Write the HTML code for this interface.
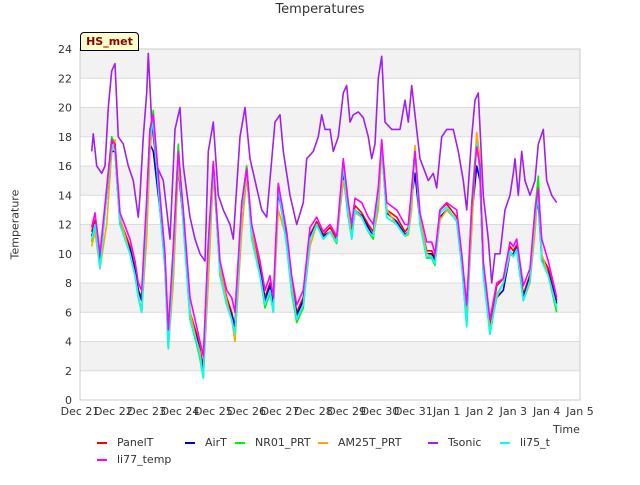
<!DOCTYPE html>
<html><head><meta charset="utf-8"><style>
body{margin:0;background:#fff;font-family:"Liberation Sans","DejaVu Sans",sans-serif}
svg text{font-family:"DejaVu Sans","Liberation Sans",sans-serif}
</style></head><body>
<svg id="chart" width="640" height="480" xmlns="http://www.w3.org/2000/svg"></svg>
<script>
const xTickLabels=["Dec 21","Dec 22","Dec 23","Dec 24","Dec 25","Dec 26","Dec 27","Dec 28","Dec 29","Dec 30","Dec 31","Jan 1","Jan 2","Jan 3","Jan 4","Jan 5"];
const yTicks=[0,2,4,6,8,10,12,14,16,18,20,22,24];
const times=[0.35,0.45,0.6,0.8,0.95,1.05,1.2,1.5,1.65,1.75,1.85,2.0,2.1,2.2,2.4,2.55,2.65,2.8,2.95,3.1,3.3,3.5,3.6,3.7,3.85,4.0,4.2,4.4,4.55,4.65,4.85,5.0,5.15,5.4,5.55,5.7,5.8,5.95,6.2,6.35,6.5,6.7,6.9,7.1,7.3,7.5,7.7,7.9,8.05,8.15,8.25,8.45,8.65,8.8,8.95,9.05,9.2,9.5,9.75,9.85,9.95,10.05,10.2,10.4,10.55,10.65,10.8,11.0,11.3,11.45,11.6,11.75,11.9,12.0,12.1,12.3,12.5,12.7,12.9,13.0,13.1,13.3,13.5,13.65,13.75,13.85,14.05,14.3];
const li75=[11,12,9,14,17.5,17,12,10,8.5,7,6,13,18,19,13,9,3.5,9.5,17,12,5.5,4,3,1.5,10,16,8.5,6.5,5.5,4.5,13,15.8,11,8.5,6.5,7.5,6,14.5,10.5,7.5,5.5,6.5,11,12,11,11.5,10.8,16,12.5,11,13,12.5,11.5,11.2,14,17.5,12.5,12,11.2,11.5,14,17,12,9.8,9.8,9.3,12.8,13.2,12.2,9.3,5,13,17.5,15.5,8.5,4.5,7.2,8,10.2,9.8,10.3,6.8,8.2,12.5,14,9.5,8.5,6.3];
const panelT=[11.5,12.3,9.5,14.2,17.8,17.2,12.3,10.5,9,7.5,7,13.5,18.5,19.3,13.5,9.5,4,10,17.2,12.5,6,4.5,3.5,2.2,10.5,16.2,9,7,6,5,13.3,16,11.5,9,7,8,6.5,14.7,11,8,6,7,11.3,12.2,11.3,11.8,11,16.3,13,11.5,13.3,12.8,12,11.5,14.2,17.6,13,12.5,11.5,11.8,14.2,17.2,12.3,10.2,10.2,9.7,13,13.4,12.5,9.7,5.5,13.3,17.8,15.8,9,5,7.8,8.3,10.5,10.2,10.6,7.2,8.6,12.8,14.3,9.8,9,6.8];
const airT=[11.2,12,9.3,14,17,17,12,10.3,8.8,7.5,6.8,13,17.5,17,13,9.3,3.8,9.5,16,12.2,5.8,4.2,3.3,2,10,15.8,8.8,6.8,5.8,5,13,15.6,11.2,8.8,6.8,7.8,6.3,14.3,10.8,7.8,5.8,6.8,11.2,12,11.2,11.5,10.8,15.5,12.5,11.2,13,12.6,11.8,11.2,13.8,17.2,12.8,12.2,11.3,11.5,13.8,15.5,12.2,10,10,9.5,12.5,13,12.3,9.5,5.2,12.5,16,15,8.8,4.8,7,7.5,10,10,10.4,7,8.4,12.5,13.5,9.7,8.7,6.6];
const nr01=[10.8,11.8,9,14.5,18,17.5,12,10,8.5,7,6,13.5,18.5,19.8,13,9,3.5,10,17.5,12,5.5,3.8,2.8,1.5,10.5,16.2,8.5,6.5,5.5,4.5,13.2,16,11,8.5,6.3,7.3,6,14.8,10.5,7.3,5.3,6.3,11,12,11,11.5,10.7,16.3,12.5,11,13,12.5,11.5,11,14,17.5,12.5,12,11.2,11.3,14.5,17.2,12,9.7,9.7,9.2,12.8,13.2,12.2,9.2,5,13.5,18,15.5,8.5,4.5,7.2,8,10.2,9.8,10.3,6.8,8.2,13,15.3,9.5,8.5,6];
const am25t=[10.5,11.5,9,12,17,17.8,12.5,10,8.5,7.2,6,11,17,19.5,14,9.5,3.5,8,16,13,6,4,3.3,1.5,8,15.5,9,6.8,5.5,4,11.5,15.3,11.5,8.5,6.5,7.5,6,13,11,7.8,5.5,6.5,10.5,12,11,11.5,10.8,15,13,11.2,12.8,12.5,11.5,11.2,13,17,13,12,11.2,11.3,13,17.4,12.5,10,9.8,9.3,12.3,13,12.3,9.5,5.5,11.5,18.3,16.5,9,4.8,7,8,10,9.8,10.2,6.8,8,11.5,14.5,10,8.5,6.3];
const li77=[11.8,12.8,10,14.5,17.8,17.5,12.8,11,9.5,8,7.5,13.8,18.5,19.5,14,10,4.8,10.5,17,13,7,5,4,3,10.8,16.3,9.5,7.5,7,6,13.5,15.8,12,9.5,7.5,8.5,7,14.8,11.5,8.5,6.5,7.5,11.8,12.5,11.5,12,11.2,16.5,13.5,12,13.8,13.5,12.5,12,14.5,17.8,13.5,13,12,12,14.5,17,12.8,10.8,10.8,10,13,13.5,13,10,6.5,13.2,17.3,16,9.5,5.5,8,8.3,10.8,10.5,11,7.8,9,13,14.5,11,9.5,7];
const tsT=[0.35,0.4,0.5,0.65,0.75,0.85,0.95,1.05,1.15,1.3,1.45,1.6,1.75,1.8,1.9,2.0,2.05,2.15,2.3,2.5,2.6,2.7,2.85,3.0,3.1,3.3,3.45,3.6,3.75,3.85,4.0,4.15,4.3,4.5,4.6,4.8,4.95,5.1,5.3,5.45,5.6,5.85,6.0,6.1,6.3,6.5,6.7,6.8,7.0,7.15,7.25,7.35,7.5,7.6,7.75,7.9,8.0,8.1,8.2,8.35,8.5,8.65,8.75,8.85,8.95,9.05,9.15,9.35,9.6,9.75,9.85,9.95,10.05,10.2,10.45,10.6,10.7,10.85,11.0,11.2,11.35,11.5,11.6,11.75,11.85,11.95,12.1,12.25,12.35,12.45,12.6,12.75,12.9,13.0,13.05,13.15,13.25,13.35,13.5,13.65,13.75,13.9,14.0,14.15,14.3];
const tsonic=[17,18.2,16,15.5,16,20,22.5,23,18,17.5,16,15,12.5,14,18,21,23.7,19,16,15,13,11,18.5,20,16,12.5,11,10,9.5,17,19,14,13,12,11,18,20,16.5,14.5,13,12.5,19,19.5,17,14,12,13.5,16.5,17,18,19.5,18.5,18.5,17,18,21,21.5,19,19.5,19.7,19.3,18,16.5,17.5,22,23.5,19,18.5,18.5,20.5,19,21.5,19.5,16.5,15,15.5,14.5,18,18.5,18.5,17,15,13,18,20.5,21,14,11,8,10,10,13,14,15.5,16.5,14,17,15,14,15,17.5,18.5,15,14,13.5];

const NS="http://www.w3.org/2000/svg";
const svg=document.getElementById('chart');
const X0=80,X1=580,Y0=400,Y1=49;
const xs=d=>X0+(d/15)*(X1-X0);
const ys=v=>Y0-(v/24)*(Y0-Y1);
function mk(tag,attrs,parent){const e=document.createElementNS(NS,tag);for(const k in attrs)e.setAttribute(k,attrs[k]);(parent||svg).appendChild(e);return e;}

for(let i=0;i<12;i++){
  const r=mk('rect',{x:X0,y:ys(2*i+2),width:X1-X0,height:ys(2*i)-ys(2*i+2),fill:i%2?'#f2f2f2':'#ffffff'});
  
  
}
yTicks.forEach(v=>{
  const l=mk('line',{x1:X0,x2:X1,y1:ys(v),y2:ys(v),stroke:'#dcdcdc','stroke-width':1});
  
  
  const t=mk('text',{x:X0-8,y:ys(v)+4,'text-anchor':'end','font-size':11,fill:'#333'});
  t.textContent=v;
  
  
});
const frame=mk('rect',{x:X0,y:Y1,width:X1-X0,height:Y0-Y1,fill:'none',stroke:'#cccccc'});


xTickLabels.forEach((s,i)=>{
  const t=mk('text',{x:xs(i),y:Y0+15,'text-anchor':'middle','font-size':11,fill:'#333'});
  t.textContent=s;
  
  
});

function line(tx,vals,color,name){
  const n=Math.min(tx.length,vals.length);
  let d='';
  for(let i=0;i<n;i++)d+=(i?'L':'M')+xs(tx[i]).toFixed(1)+','+ys(vals[i]).toFixed(1);
  const p=mk('path',{d:d,fill:'none',stroke:color,'stroke-width':1.6,'stroke-linejoin':'round'});
  
  
}
line(times,panelT,'#ff0000','series-panelt');
line(times,airT,'#0000cc','series-airt');
line(times,nr01,'#00ee00','series-nr01-prt');
line(times,am25t,'#ffa500','series-am25t-prt');
line(tsT,tsonic,'#a020f0','series-tsonic');
line(times,li75,'#00ffff','series-li75-t');
line(times,li77,'#ff00ff','series-li77-temp');
</script>
<div style="position:absolute;left:0;top:0;width:640px;height:480px;pointer-events:none">
<div style="position:absolute;left:0;width:640px;top:2px;text-align:center;font-size:13px;color:#333;font-family:'DejaVu Sans',sans-serif">Temperatures</div>
<div style="position:absolute;left:-25px;top:218px;width:80px;text-align:center;transform:rotate(-90deg);font-size:11px;color:#333;font-family:'DejaVu Sans',sans-serif">Temperature</div>
<div style="position:absolute;left:553px;top:423px;font-size:11px;color:#333;font-family:'DejaVu Sans',sans-serif">Time</div>
<div style="position:absolute;left:80px;top:32px;width:57px;height:17px;background:#ffffcc;border:1px solid #000;border-radius:4px 4px 0 0;font-size:11px;font-weight:bold;color:#8b0000;text-align:center;line-height:17px;font-family:'DejaVu Sans',sans-serif">HS_met</div>
<div style="font-size:11px;color:#333;font-family:'DejaVu Sans',sans-serif">
<div style="position:absolute;left:97px;top:436px"><span style="display:inline-block;width:10px;height:2px;background:#f00;vertical-align:middle;margin-right:10px"></span>PanelT</div>
<div style="position:absolute;left:185px;top:436px"><span style="display:inline-block;width:10px;height:2px;background:#00c;vertical-align:middle;margin-right:10px"></span>AirT</div>
<div style="position:absolute;left:235px;top:436px"><span style="display:inline-block;width:10px;height:2px;background:#0e0;vertical-align:middle;margin-right:10px"></span>NR01_PRT</div>
<div style="position:absolute;left:318px;top:436px"><span style="display:inline-block;width:10px;height:2px;background:#ffa500;vertical-align:middle;margin-right:10px"></span>AM25T_PRT</div>
<div style="position:absolute;left:428px;top:436px"><span style="display:inline-block;width:10px;height:2px;background:#a020f0;vertical-align:middle;margin-right:10px"></span>Tsonic</div>
<div style="position:absolute;left:500px;top:436px"><span style="display:inline-block;width:10px;height:2px;background:#0ff;vertical-align:middle;margin-right:10px"></span>li75_t</div>
<div style="position:absolute;left:97px;top:453px"><span style="display:inline-block;width:10px;height:2px;background:#f0f;vertical-align:middle;margin-right:10px"></span>li77_temp</div>
</div>
</div>
</body></html>
